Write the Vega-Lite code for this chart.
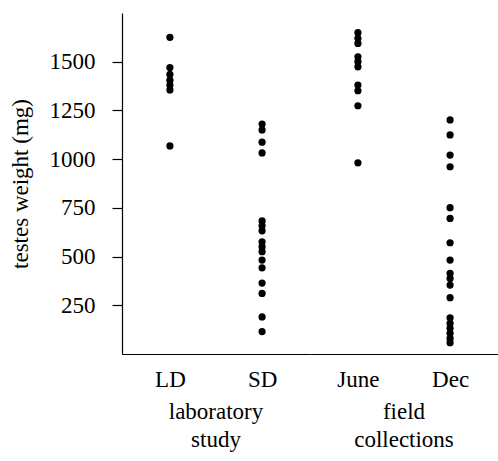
{
  "$schema": "https://vega.github.io/schema/vega-lite/v6.json",
  "background": "white",
  "padding": {"left": 9, "top": 13, "right": 0, "bottom": 0},
  "data": {"values": [
    {"cond": "LD", "group": "laboratory study", "w": 1625},
    {"cond": "LD", "group": "laboratory study", "w": 1470},
    {"cond": "LD", "group": "laboratory study", "w": 1435},
    {"cond": "LD", "group": "laboratory study", "w": 1405},
    {"cond": "LD", "group": "laboratory study", "w": 1380},
    {"cond": "LD", "group": "laboratory study", "w": 1355},
    {"cond": "LD", "group": "laboratory study", "w": 1068},
    {"cond": "SD", "group": "laboratory study", "w": 1180},
    {"cond": "SD", "group": "laboratory study", "w": 1150},
    {"cond": "SD", "group": "laboratory study", "w": 1087},
    {"cond": "SD", "group": "laboratory study", "w": 1032},
    {"cond": "SD", "group": "laboratory study", "w": 683},
    {"cond": "SD", "group": "laboratory study", "w": 658},
    {"cond": "SD", "group": "laboratory study", "w": 632},
    {"cond": "SD", "group": "laboratory study", "w": 576},
    {"cond": "SD", "group": "laboratory study", "w": 551},
    {"cond": "SD", "group": "laboratory study", "w": 525},
    {"cond": "SD", "group": "laboratory study", "w": 482},
    {"cond": "SD", "group": "laboratory study", "w": 442},
    {"cond": "SD", "group": "laboratory study", "w": 364},
    {"cond": "SD", "group": "laboratory study", "w": 311},
    {"cond": "SD", "group": "laboratory study", "w": 190},
    {"cond": "SD", "group": "laboratory study", "w": 115},
    {"cond": "June", "group": "field collections", "w": 1649},
    {"cond": "June", "group": "field collections", "w": 1620},
    {"cond": "June", "group": "field collections", "w": 1594},
    {"cond": "June", "group": "field collections", "w": 1525},
    {"cond": "June", "group": "field collections", "w": 1500},
    {"cond": "June", "group": "field collections", "w": 1474},
    {"cond": "June", "group": "field collections", "w": 1380},
    {"cond": "June", "group": "field collections", "w": 1351},
    {"cond": "June", "group": "field collections", "w": 1274},
    {"cond": "June", "group": "field collections", "w": 981},
    {"cond": "Dec", "group": "field collections", "w": 1201},
    {"cond": "Dec", "group": "field collections", "w": 1124},
    {"cond": "Dec", "group": "field collections", "w": 1021},
    {"cond": "Dec", "group": "field collections", "w": 961},
    {"cond": "Dec", "group": "field collections", "w": 751},
    {"cond": "Dec", "group": "field collections", "w": 696},
    {"cond": "Dec", "group": "field collections", "w": 571},
    {"cond": "Dec", "group": "field collections", "w": 482},
    {"cond": "Dec", "group": "field collections", "w": 414},
    {"cond": "Dec", "group": "field collections", "w": 388},
    {"cond": "Dec", "group": "field collections", "w": 354},
    {"cond": "Dec", "group": "field collections", "w": 289},
    {"cond": "Dec", "group": "field collections", "w": 186},
    {"cond": "Dec", "group": "field collections", "w": 157},
    {"cond": "Dec", "group": "field collections", "w": 132},
    {"cond": "Dec", "group": "field collections", "w": 106},
    {"cond": "Dec", "group": "field collections", "w": 80},
    {"cond": "Dec", "group": "field collections", "w": 58}
  ]},
  "facet": {
    "column": {
      "field": "group",
      "type": "nominal",
      "sort": ["laboratory study", "field collections"],
      "header": {
        "title": null,
        "labelOrient": "bottom",
        "labelFont": "Liberation Serif",
        "labelFontSize": 23,
        "labelColor": "black",
        "labelExpr": "split(datum.value, ' ')",
        "labelLineHeight": 28,
        "labelPadding": 10
      }
    }
  },
  "spacing": 0,
  "resolve": {"scale": {"x": "independent"}},
  "spec": {
    "width": 188,
    "height": 341,
    "mark": {"type": "circle", "size": 52, "color": "black", "opacity": 1},
    "encoding": {
      "x": {
        "field": "cond",
        "type": "nominal",
        "sort": ["LD", "SD", "June", "Dec"],
        "scale": {"type": "point", "padding": 0.52},
        "axis": {"title": null, "ticks": false, "labelAngle": 0, "labelPadding": 14}
      },
      "y": {
        "field": "w",
        "type": "quantitative",
        "scale": {"domain": [0, 1750], "nice": false},
        "axis": {
          "title": "testes weight (mg)",
          "values": [250, 500, 750, 1000, 1250, 1500],
          "format": "d",
          "tickSize": 10,
          "labelPadding": 17,
          "titlePadding": 17
        }
      }
    }
  },
  "config": {
    "view": {"stroke": null},
    "font": "Liberation Serif",
    "axis": {
      "grid": false,
      "domainColor": "black",
      "tickColor": "black",
      "labelColor": "black",
      "titleColor": "black",
      "labelFont": "Liberation Serif",
      "titleFont": "Liberation Serif",
      "labelFontSize": 23,
      "titleFontSize": 23,
      "titleFontWeight": "normal",
      "domainWidth": 1.2,
      "tickWidth": 1.2
    }
  }
}
